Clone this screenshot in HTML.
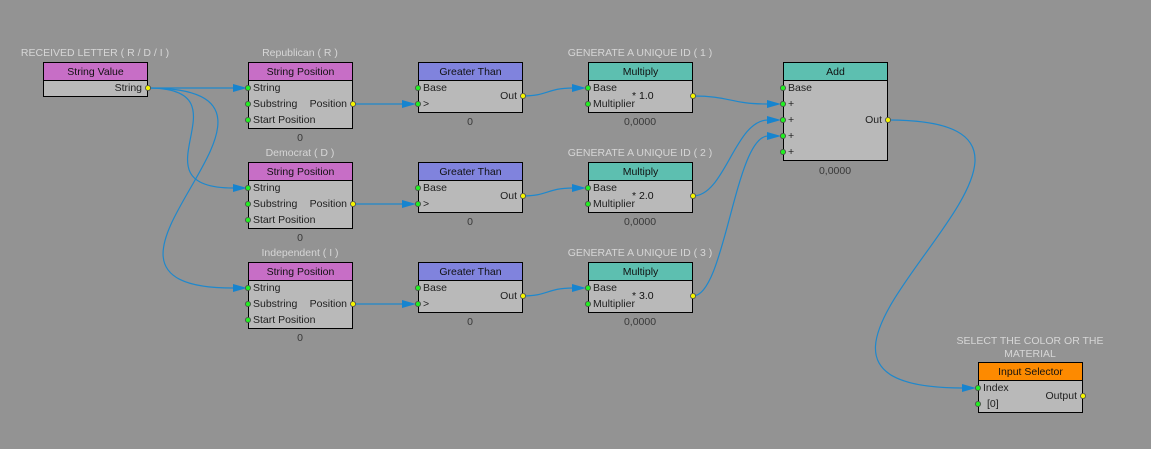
<!DOCTYPE html>
<html><head><meta charset="utf-8">
<style>
html,body{margin:0;padding:0;}
body{width:1151px;height:449px;background:#939393;position:relative;overflow:hidden;font-family:"Liberation Sans",Arial,sans-serif;font-size:10.5px;color:#1e1e1e;}
.n{position:absolute;box-sizing:border-box;border:1px solid #000;background:#b9b9b9;width:105px;}
.h{position:absolute;left:0;top:0;right:0;height:17px;border-bottom:1px solid #000;text-align:center;line-height:18px;color:#111;}
.r{position:absolute;line-height:17px;white-space:nowrap;}
.l{left:4px;}
.o{right:5px;text-align:right;}
.pk{background:#c76ec6;}
.bl{background:#8083dd;}
.tl{background:#5dbfb0;}
.or{background:#fd8a00;}
.lab{position:absolute;color:#d6d6d6;text-align:center;white-space:nowrap;line-height:13px;transform:translateX(-50%);}
.val{position:absolute;color:#383838;text-align:center;white-space:nowrap;line-height:13px;transform:translateX(-50%);}
svg{position:absolute;left:0;top:0;}
</style></head><body>

<!-- labels above -->
<div class="lab" style="left:95px;top:47px;">RECEIVED LETTER ( R / D / I )</div>
<div class="lab" style="left:300px;top:47px;">Republican ( R )</div>
<div class="lab" style="left:300px;top:147px;">Democrat ( D )</div>
<div class="lab" style="left:300px;top:247px;">Independent ( I )</div>
<div class="lab" style="left:640px;top:47px;">GENERATE A UNIQUE ID ( 1 )</div>
<div class="lab" style="left:640px;top:147px;">GENERATE A UNIQUE ID ( 2 )</div>
<div class="lab" style="left:640px;top:247px;">GENERATE A UNIQUE ID ( 3 )</div>
<div class="lab" style="left:1030px;top:335px;">SELECT THE COLOR OR THE<br>MATERIAL</div>

<!-- String Value -->
<div class="n" style="left:43px;top:62px;height:35px;">
  <div class="h pk">String Value</div>
  <div class="r o" style="top:17px;">String</div>
</div>

<!-- String Position x3 -->
<div class="n" style="left:248px;top:62px;height:67px;">
  <div class="h pk">String Position</div>
  <div class="r l" style="top:17px;">String</div>
  <div class="r l" style="top:33px;">Substring</div>
  <div class="r l" style="top:49px;">Start Position</div>
  <div class="r o" style="top:33px;">Position</div>
</div>
<div class="n" style="left:248px;top:162px;height:67px;">
  <div class="h pk">String Position</div>
  <div class="r l" style="top:17px;">String</div>
  <div class="r l" style="top:33px;">Substring</div>
  <div class="r l" style="top:49px;">Start Position</div>
  <div class="r o" style="top:33px;">Position</div>
</div>
<div class="n" style="left:248px;top:262px;height:67px;">
  <div class="h pk">String Position</div>
  <div class="r l" style="top:17px;">String</div>
  <div class="r l" style="top:33px;">Substring</div>
  <div class="r l" style="top:49px;">Start Position</div>
  <div class="r o" style="top:33px;">Position</div>
</div>
<div class="val" style="left:300px;top:132px;">0</div>
<div class="val" style="left:300px;top:232px;">0</div>
<div class="val" style="left:300px;top:332px;">0</div>

<!-- Greater Than x3 -->
<div class="n" style="left:418px;top:62px;height:51px;">
  <div class="h bl">Greater Than</div>
  <div class="r l" style="top:17px;">Base</div>
  <div class="r l" style="top:33px;">&gt;</div>
  <div class="r o" style="top:25px;">Out</div>
</div>
<div class="n" style="left:418px;top:162px;height:51px;">
  <div class="h bl">Greater Than</div>
  <div class="r l" style="top:17px;">Base</div>
  <div class="r l" style="top:33px;">&gt;</div>
  <div class="r o" style="top:25px;">Out</div>
</div>
<div class="n" style="left:418px;top:262px;height:51px;">
  <div class="h bl">Greater Than</div>
  <div class="r l" style="top:17px;">Base</div>
  <div class="r l" style="top:33px;">&gt;</div>
  <div class="r o" style="top:25px;">Out</div>
</div>
<div class="val" style="left:470px;top:116px;">0</div>
<div class="val" style="left:470px;top:216px;">0</div>
<div class="val" style="left:470px;top:316px;">0</div>

<!-- Multiply x3 -->
<div class="n" style="left:588px;top:62px;height:51px;">
  <div class="h tl">Multiply</div>
  <div class="r l" style="top:17px;">Base</div>
  <div class="r l" style="top:33px;">Multiplier</div>
  <div class="r" style="left:43px;top:25px;color:#111;">* 1.0</div>
</div>
<div class="n" style="left:588px;top:162px;height:51px;">
  <div class="h tl">Multiply</div>
  <div class="r l" style="top:17px;">Base</div>
  <div class="r l" style="top:33px;">Multiplier</div>
  <div class="r" style="left:43px;top:25px;color:#111;">* 2.0</div>
</div>
<div class="n" style="left:588px;top:262px;height:51px;">
  <div class="h tl">Multiply</div>
  <div class="r l" style="top:17px;">Base</div>
  <div class="r l" style="top:33px;">Multiplier</div>
  <div class="r" style="left:43px;top:25px;color:#111;">* 3.0</div>
</div>
<div class="val" style="left:640px;top:116px;">0,0000</div>
<div class="val" style="left:640px;top:216px;">0,0000</div>
<div class="val" style="left:640px;top:316px;">0,0000</div>

<!-- Add -->
<div class="n" style="left:783px;top:62px;height:99px;">
  <div class="h tl">Add</div>
  <div class="r l" style="top:17px;">Base</div>
  <div class="r l" style="top:33px;">+</div>
  <div class="r l" style="top:49px;">+</div>
  <div class="r l" style="top:65px;">+</div>
  <div class="r l" style="top:81px;">+</div>
  <div class="r o" style="top:49px;">Out</div>
</div>
<div class="val" style="left:835px;top:165px;">0,0000</div>

<!-- Input Selector -->
<div class="n" style="left:978px;top:362px;height:51px;">
  <div class="h or">Input Selector</div>
  <div class="r l" style="top:17px;">Index</div>
  <div class="r" style="left:8px;top:33px;">[0]</div>
  <div class="r o" style="top:25px;">Output</div>
</div>

<svg width="1151" height="449" viewBox="0 0 1151 449">
  <g fill="none" stroke="#1f88cc" stroke-width="1.2">
    <path d="M148,88 L234,88"/>
    <path d="M148,88 C253,88 128,188 233,188"/>
    <path d="M148,88 C349,88 32,288 233,288"/>
    <path d="M353,104 L403,104"/>
    <path d="M353,204 L403,204"/>
    <path d="M353,304 L403,304"/>
    <path d="M523,96 C548,96 547,88 573,88"/>
    <path d="M523,196 C548,196 547,188 573,188"/>
    <path d="M523,296 C548,296 547,288 573,288"/>
    <path d="M693,96 C730,96 730,104 768,104"/>
    <path d="M693,196 C725,196 735,120 768,120"/>
    <path d="M693,296 C725,296 735,136 768,136"/>
    <path d="M888,120 C1156,120 694,388 963,388"/>
  </g>
  <g fill="#1684cf">
    <polygon points="233,84 233,92 247,88"/>
    <polygon points="233,184 233,192 247,188"/>
    <polygon points="233,284 233,292 247,288"/>
    <polygon points="402,100 402,108 416,104"/>
    <polygon points="402,200 402,208 416,204"/>
    <polygon points="402,300 402,308 416,304"/>
    <polygon points="572,84 572,92 586,88"/>
    <polygon points="572,184 572,192 586,188"/>
    <polygon points="572,284 572,292 586,288"/>
    <polygon points="767,100 767,108 781,104"/>
    <polygon points="767,116 767,124 781,120"/>
    <polygon points="767,132 767,140 781,136"/>
    <polygon points="962,384 962,392 976,388"/>
  </g>
  <g stroke="#4a4a4a" stroke-width="0.8">
    <g fill="#f4f400">
      <circle cx="148" cy="88" r="2.6"/>
      <circle cx="353" cy="104" r="2.6"/>
      <circle cx="353" cy="204" r="2.6"/>
      <circle cx="353" cy="304" r="2.6"/>
      <circle cx="523" cy="96" r="2.6"/>
      <circle cx="523" cy="196" r="2.6"/>
      <circle cx="523" cy="296" r="2.6"/>
      <circle cx="693" cy="96" r="2.6"/>
      <circle cx="693" cy="196" r="2.6"/>
      <circle cx="693" cy="296" r="2.6"/>
      <circle cx="888" cy="120" r="2.6"/>
      <circle cx="1083" cy="396" r="2.6"/>
    </g>
    <g fill="#22ee22">
      <circle cx="248" cy="88" r="2.6"/><circle cx="248" cy="104" r="2.6"/><circle cx="248" cy="120" r="2.6"/>
      <circle cx="248" cy="188" r="2.6"/><circle cx="248" cy="204" r="2.6"/><circle cx="248" cy="220" r="2.6"/>
      <circle cx="248" cy="288" r="2.6"/><circle cx="248" cy="304" r="2.6"/><circle cx="248" cy="320" r="2.6"/>
      <circle cx="418" cy="88" r="2.6"/><circle cx="418" cy="104" r="2.6"/>
      <circle cx="418" cy="188" r="2.6"/><circle cx="418" cy="204" r="2.6"/>
      <circle cx="418" cy="288" r="2.6"/><circle cx="418" cy="304" r="2.6"/>
      <circle cx="588" cy="88" r="2.6"/><circle cx="588" cy="104" r="2.6"/>
      <circle cx="588" cy="188" r="2.6"/><circle cx="588" cy="204" r="2.6"/>
      <circle cx="588" cy="288" r="2.6"/><circle cx="588" cy="304" r="2.6"/>
      <circle cx="783" cy="88" r="2.6"/><circle cx="783" cy="104" r="2.6"/><circle cx="783" cy="120" r="2.6"/><circle cx="783" cy="136" r="2.6"/><circle cx="783" cy="152" r="2.6"/>
      <circle cx="978" cy="388" r="2.6"/><circle cx="978" cy="404" r="2.6"/>
    </g>
  </g>
</svg>
</body></html>
